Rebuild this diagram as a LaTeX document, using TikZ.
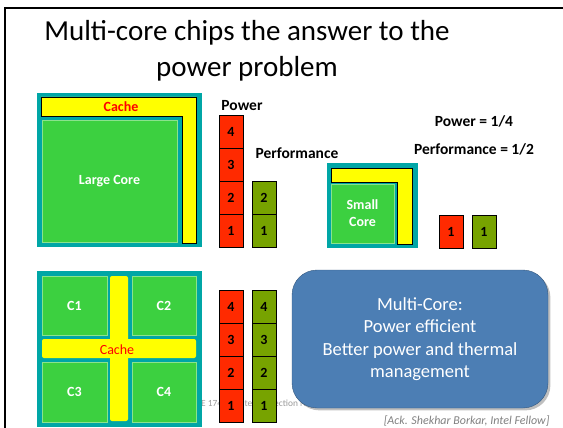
\documentclass[tikz,border=0pt]{standalone}
\usepackage{fontspec}
\setmainfont{Carlito}
\usepackage{tikz}
\usetikzlibrary{positioning,shadows}
\definecolor{chipteal}{RGB}{0,166,166}
\definecolor{coregreen}{RGB}{60,208,64}
\definecolor{cacheyellow}{RGB}{255,255,0}
\definecolor{powred}{RGB}{255,42,0}
\definecolor{perfolive}{RGB}{119,163,0}
\definecolor{noteblue}{RGB}{76,126,180}

\begin{document}
\begin{tikzpicture}[x=1pt, y=-1pt,
    core/.style={rectangle, fill=coregreen, draw=coregreen!60!white, text=white, inner sep=0, font=\bfseries\fontsize{14}{16}\selectfont},
    cache/.style={fill=cacheyellow, draw=black, thick},
    cell/.style={rectangle, draw=black, minimum width=24pt, minimum height=33pt, inner sep=0, font=\bfseries\fontsize{14}{16}\selectfont},
    pwr/.style={cell, fill=powred},
    perf/.style={cell, fill=perfolive},
    lbl/.style={font=\bfseries\fontsize{15.5}{18}\selectfont},
    note/.style={rectangle, rounded corners=25pt, fill=noteblue, draw=noteblue!70!black, text=white, align=center, drop shadow, font=\fontsize{18.5}{22.5}\selectfont}
]
    \useasboundingbox (0,0) rectangle (563,428);
    \draw[line width=2pt] (5,440) -- (5,8) -- (575,8);

    \node[align=center, font=\fontsize{29}{36}\selectfont] (title) at (247,51) {Multi-core chips the answer to the\\power problem};

    % footer, mostly hidden behind the boxes
    \node[anchor=west, inner sep=0, text=black!40, font=\fontsize{9.4}{11}\selectfont] (footer) at (191.4,404) {ECE 1749H: Interconnection Networks for Parallel Computer Architectures};

    % one large core
    \fill[chipteal] (37,93) rectangle (202,247);
    \draw[cache] (41,97) -- (196,97) -- (196,243) -- (182,243) -- (182,116) -- (41,116) -- cycle;
    \node[core, minimum width=135pt, minimum height=122pt] (bigcore) at (109.5,181) {Large Core};
    \node[lbl, text=red, font=\bfseries\fontsize{14}{16}\selectfont] (bigcache) at (121,107) {Cache};

    \node[lbl] (powlbl) at (242,106) {Power};
    \node[lbl] (perflbl) at (297,153) {Performance};
    \foreach \i in {1,...,4}
        \node[pwr] (pa\i) at (231,{230.5-33*(\i-1)}) {\i};
    \foreach \i in {1,2}
        \node[perf] (fa\i) at (264,{230.5-33*(\i-1)}) {\i};

    % one small core
    \fill[chipteal] (327,163) rectangle (418,248);
    \draw[cache] (331,168) -- (412,168) -- (412,244) -- (397,244) -- (397,182) -- (331,182) -- cycle;
    \node[core, minimum width=63pt, minimum height=59pt, align=center, font=\bfseries\fontsize{14}{17}\selectfont] (smallcore) at (362.5,213.5) {Small\\Core};

    \node[lbl] (powq) at (474,121) {Power = 1/4};
    \node[lbl] (perfq) at (474,149) {Performance = 1/2};
    \node[pwr] (pb1) at (451,231.5) {1};
    \node[perf] (fb1) at (484,231.5) {1};

    % four cores
    \fill[chipteal] (37,271) rectangle (202,427);
    \fill[cacheyellow, rounded corners=2pt] (110,276) rectangle (128,421);
    \fill[cacheyellow, rounded corners=2pt] (42,339) rectangle (196,358);
    \node[core, minimum width=65pt, minimum height=59pt] (c1) at (74.5,305.5) {C1};
    \node[core, minimum width=64pt, minimum height=59pt] (c2) at (164,305.5) {C2};
    \node[core, minimum width=65pt, minimum height=60pt] (c3) at (74.5,392) {C3};
    \node[core, minimum width=64pt, minimum height=60pt] (c4) at (164,392) {C4};
    \node[text=red, font=\fontsize{14}{16}\selectfont] (quadcache) at (117,350) {Cache};

    \foreach \i in {1,...,4} {
        \node[pwr] (pc\i) at (231,{405.5-33*(\i-1)}) {\i};
        \node[perf] (fc\i) at (264,{405.5-33*(\i-1)}) {\i};
    }

    \node[note, minimum width=256pt, minimum height=138pt] (multicore) at (420,339) {Multi-Core:\\Power efficient\\Better power and thermal\\management};

    \node[anchor=east, text=gray, font=\itshape\fontsize{12}{14}\selectfont] (ack) at (553,421) {[Ack. Shekhar Borkar, Intel Fellow]};
\end{tikzpicture}
\end{document}
